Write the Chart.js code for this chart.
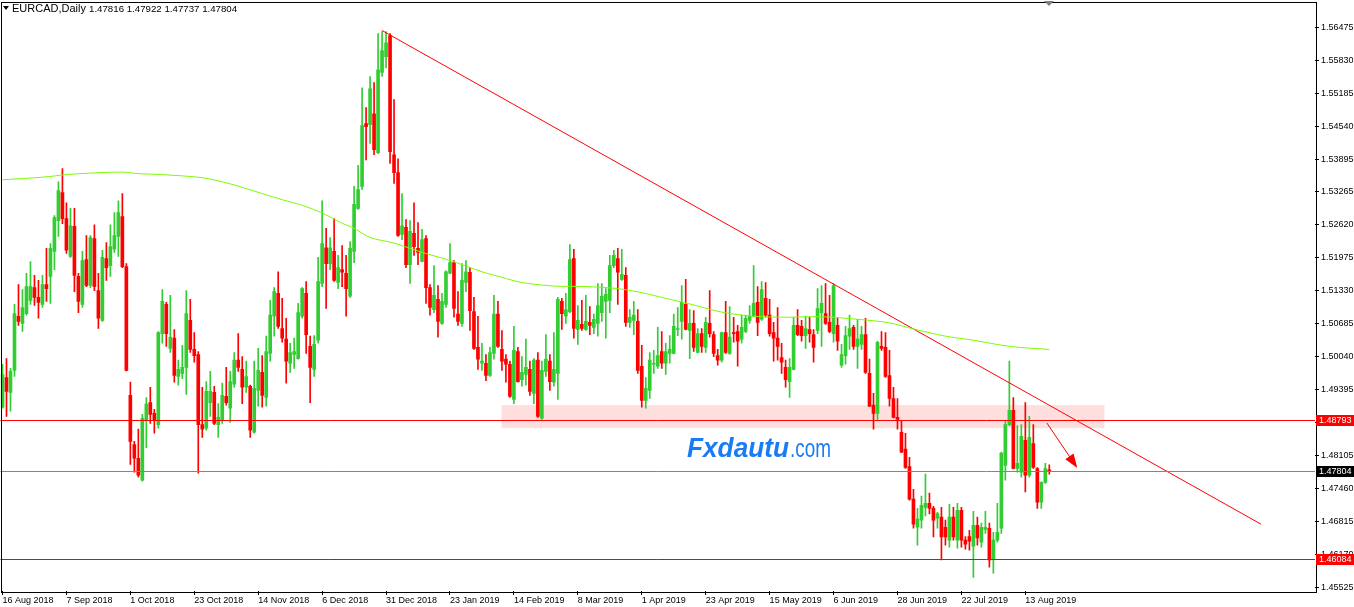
<!DOCTYPE html>
<html>
<head>
<meta charset="utf-8">
<title>EURCAD, Daily</title>
<script src="https://cdn.jsdelivr.net/npm/chart.js@4.4.1/dist/chart.umd.min.js"></script>
<style>
  html, body { margin: 0; padding: 0; background: #fff; }
  #wrap { width: 1354px; height: 607px; }
</style>
</head>
<body>
<div id="wrap"><canvas id="chart" width="1354" height="607"></canvas></div>
<script>
// daily candles, 16 Aug 2018 .. 21 Aug 2019
const opens = [
  1.4905,1.4963,1.4934,1.4977,1.5083,1.5069,1.5088,1.5114,1.5139,1.5120,
  1.5106,1.5145,1.5161,1.5210,1.5270,1.5325,1.5274,1.5200,1.5259,1.5161,
  1.5106,1.5194,1.5143,1.5235,1.5133,1.5075,1.5196,1.5182,1.5214,1.5239,
  1.5278,1.5180,1.4928,1.4832,1.4805,1.4762,1.4879,1.4914,1.4893,1.4871,
  1.5049,1.5106,1.5020,1.5040,1.4965,1.4971,1.4983,1.5075,1.5018,1.5008,
  1.4871,1.4864,1.4914,1.4934,1.4871,1.4879,1.4926,1.4903,1.4950,1.4997,
  1.4979,1.4944,1.4946,1.4856,1.4938,1.4973,1.4924,1.5010,1.5083,1.5128,
  1.5059,1.5038,1.4991,1.5008,1.5000,1.5083,1.5128,1.5024,1.4979,1.5036,
  1.5147,1.5217,1.5186,1.5210,1.5149,1.5174,1.5167,1.5122,1.5210,1.5294,
  1.5337,1.5460,1.5458,1.5479,1.5403,1.5560,1.5591,1.5632,1.5399,1.5364,
  1.5243,1.5257,1.5184,1.5245,1.5216,1.5190,1.5235,1.5139,1.5096,1.5116,
  1.5069,1.5106,1.5167,1.5188,1.5087,1.5069,1.5149,1.5169,1.5092,1.5022,
  1.4991,1.4991,1.4967,1.5010,1.5087,1.5018,1.4999,1.4989,1.4920,1.5014,
  1.4959,1.4969,1.4979,1.4932,1.4997,1.4883,1.4975,1.4995,1.4954,1.4971,
  1.5112,1.5083,1.5092,1.5196,1.5057,1.5067,1.5057,1.5071,1.5061,1.5069,
  1.5090,1.5112,1.5114,1.5182,1.5196,1.5155,1.5163,1.5071,1.5075,1.5073,
  1.4985,1.4918,1.4938,1.4989,1.4985,1.5014,1.4991,1.5010,1.5010,1.5057,
  1.5073,1.5106,1.5055,1.5069,1.5012,1.5049,1.5022,1.5069,1.5047,1.5006,
  1.4997,1.5051,1.5010,1.5051,1.5053,1.5038,1.5053,1.5075,1.5083,1.5110,
  1.5077,1.5118,1.5085,1.5051,1.5040,1.5002,1.4983,1.4955,1.4979,1.5065,
  1.5063,1.5045,1.5057,1.5047,1.5055,1.5090,1.5088,1.5071,1.5049,1.5065,
  1.4987,1.5006,1.5044,1.5061,1.5024,1.5028,1.5047,1.4971,1.4909,1.4893,
  1.5024,1.5022,1.4967,1.4922,1.4885,1.4856,1.4823,1.4789,1.4725,1.4670,
  1.4684,1.4709,1.4717,1.4707,1.4688,1.4690,1.4670,1.4645,1.4690,1.4645,
  1.4703,1.4645,1.4652,1.4633,1.4674,1.4641,1.4666,1.4668,1.4608,1.4645,
  1.4668,1.4791,1.4871,1.4899,1.4785,1.4778,1.4840,1.4772,1.4834,1.4785,
  1.4719,1.4758,1.47816
];
const highs = [
  1.4989,1.5000,1.4981,1.5106,1.5145,1.5135,1.5167,1.5190,1.5163,1.5153,
  1.5163,1.5216,1.5225,1.5280,1.5346,1.5372,1.5305,1.5294,1.5294,1.5167,
  1.5210,1.5241,1.5241,1.5262,1.5167,1.5212,1.5227,1.5262,1.5286,1.5309,
  1.5323,1.5186,1.4954,1.4838,1.4862,1.4891,1.4924,1.4944,1.4901,1.5053,
  1.5135,1.5110,1.5124,1.5057,1.4997,1.5026,1.5133,1.5116,1.5051,1.5014,
  1.4944,1.4955,1.4975,1.4946,1.4912,1.4952,1.4983,1.4975,1.5012,1.5049,
  1.5004,1.4995,1.4948,1.4995,1.5020,1.5006,1.5044,1.5114,1.5139,1.5170,
  1.5118,1.5079,1.5030,1.5040,1.5108,1.5139,1.5151,1.5044,1.5045,1.5198,
  1.5309,1.5255,1.5237,1.5274,1.5202,1.5221,1.5202,1.5229,1.5337,1.5378,
  1.5530,1.5491,1.5552,1.5540,1.5636,1.5640,1.5640,1.5636,1.5507,1.5391,
  1.5323,1.5272,1.5270,1.5305,1.5266,1.5253,1.5241,1.5145,1.5182,1.5143,
  1.5128,1.5172,1.5225,1.5192,1.5131,1.5186,1.5192,1.5178,1.5120,1.5083,
  1.5030,1.5008,1.5022,1.5124,1.5112,1.5055,1.5008,1.4995,1.5063,1.5022,
  1.5004,1.5038,1.4995,1.5000,1.5012,1.4995,1.5047,1.5008,1.5051,1.5120,
  1.5118,1.5128,1.5223,1.5214,1.5104,1.5114,1.5124,1.5102,1.5087,1.5147,
  1.5147,1.5137,1.5202,1.5212,1.5216,1.5214,1.5178,1.5096,1.5112,1.5096,
  1.5026,1.4963,1.5012,1.5016,1.5061,1.5053,1.5030,1.5045,1.5087,1.5100,
  1.5143,1.5155,1.5096,1.5094,1.5059,1.5059,1.5081,1.5133,1.5053,1.5018,
  1.5052,1.5112,1.5102,1.5081,1.5065,1.5085,1.5085,1.5104,1.5182,1.5141,
  1.5151,1.5149,1.5116,1.5071,1.5100,1.5030,1.4997,1.5000,1.5081,1.5096,
  1.5075,1.5083,1.5081,1.5057,1.5137,1.5143,1.5147,1.5124,1.5147,1.5081,
  1.5028,1.5063,1.5085,1.5065,1.5077,1.5063,1.5079,1.4999,1.4932,1.5034,
  1.5053,1.5051,1.5016,1.4944,1.4922,1.4879,1.4854,1.4807,1.4744,1.4707,
  1.4731,1.4774,1.4737,1.4711,1.4699,1.4709,1.4684,1.4715,1.4709,1.4717,
  1.4709,1.4652,1.4664,1.4701,1.4690,1.4678,1.4701,1.4678,1.4660,1.4717,
  1.4817,1.4879,1.4995,1.4924,1.4869,1.4871,1.4914,1.4887,1.4871,1.4787,
  1.4759,1.4795,1.47922
];
const lows = [
  1.4903,1.4887,1.4897,1.4965,1.5065,1.5053,1.5085,1.5106,1.5104,1.5079,
  1.5100,1.5112,1.5108,1.5174,1.5239,1.5264,1.5206,1.5198,1.5131,1.5090,
  1.5100,1.5141,1.5139,1.5133,1.5059,1.5073,1.5153,1.5161,1.5208,1.5200,
  1.5178,1.4976,1.4793,1.4778,1.4768,1.4760,1.4826,1.4873,1.4854,1.4864,
  1.5030,1.5024,1.5012,1.4954,1.4948,1.4961,1.4930,1.5012,1.4993,1.4776,
  1.4846,1.4860,1.4887,1.4871,1.4846,1.4873,1.4909,1.4875,1.4944,1.4975,
  1.4912,1.4934,1.4846,1.4854,1.4907,1.4905,1.4907,1.4995,1.5044,1.5059,
  1.5032,1.4952,1.4973,1.4981,1.4999,1.5079,1.5010,1.4914,1.4965,1.5030,
  1.5141,1.5098,1.5174,1.5151,1.5137,1.5141,1.5083,1.5120,1.5188,1.5292,
  1.5331,1.5389,1.5421,1.5399,1.5401,1.5552,1.5569,1.5382,1.5343,1.5239,
  1.5233,1.5178,1.5147,1.5202,1.5184,1.5189,1.5108,1.5085,1.5090,1.5042,
  1.5067,1.5100,1.5166,1.5081,1.5065,1.5063,1.5131,1.5055,1.5018,1.4979,
  1.4977,1.4957,1.4965,1.4999,1.5022,1.4977,1.4954,1.4924,1.4912,1.4954,
  1.4946,1.4948,1.4928,1.4912,1.4885,1.4881,1.4965,1.4938,1.4946,1.4920,
  1.5057,1.5069,1.5090,1.5040,1.5028,1.5055,1.5055,1.5047,1.5049,1.5044,
  1.5073,1.5040,1.5090,1.5178,1.5106,1.5153,1.5063,1.5061,1.5047,1.4971,
  1.4905,1.4903,1.4922,1.4971,1.4981,1.4981,1.4969,1.4991,1.5009,1.5045,
  1.5038,1.5056,1.5000,1.5014,1.5011,1.5012,1.5012,1.5042,1.5004,1.4987,
  1.4993,1.5010,1.5008,1.5032,1.4985,1.5030,1.5051,1.5069,1.5082,1.5045,
  1.5075,1.5081,1.5044,1.4995,1.4997,1.4971,1.4944,1.4924,1.4978,1.5045,
  1.5034,1.5020,1.5032,1.4993,1.5049,1.5024,1.5067,1.5051,1.5032,1.5016,
  1.4983,1.4989,1.5018,1.5018,1.4981,1.5018,1.4971,1.4906,1.4862,1.4879,
  1.5016,1.4963,1.4907,1.4884,1.4862,1.4816,1.4785,1.4723,1.4668,1.4635,
  1.4668,1.4692,1.4696,1.4651,1.4668,1.4606,1.4635,1.4631,1.4645,1.4629,
  1.4631,1.4627,1.4625,1.4572,1.4635,1.4631,1.4658,1.4592,1.4580,1.4641,
  1.4658,1.4762,1.4869,1.4784,1.4778,1.4768,1.4739,1.4768,1.4785,1.4707,
  1.4707,1.4756,1.47737
];
const closes = [
  1.4969,1.4936,1.4975,1.5088,1.5073,1.5100,1.5141,1.5141,1.5120,1.5110,
  1.5145,1.5137,1.5216,1.5276,1.5329,1.5274,1.5212,1.5260,1.5163,1.5112,
  1.5192,1.5143,1.5237,1.5141,1.5079,1.5198,1.5178,1.5219,1.5241,1.5286,
  1.5180,1.4977,1.4838,1.4805,1.4772,1.4883,1.4911,1.4891,1.4879,1.5051,
  1.5112,1.5049,1.5042,1.4967,1.4979,1.4983,1.5088,1.5018,1.5006,1.4871,
  1.4862,1.4936,1.4936,1.4873,1.4885,1.4928,1.4914,1.4955,1.4997,1.4983,
  1.4944,1.4965,1.4860,1.4942,1.4977,1.4928,1.5014,1.5085,1.5131,1.5063,
  1.5040,1.4995,1.5012,1.5014,1.5090,1.5137,1.5047,1.4983,1.5028,1.5151,
  1.5225,1.5186,1.5217,1.5153,1.5178,1.5169,1.5137,1.5216,1.5302,1.5331,
  1.5456,1.5454,1.5528,1.5409,1.5565,1.5603,1.5618,1.5405,1.5364,1.5241,
  1.5260,1.5184,1.5249,1.5219,1.5208,1.5233,1.5139,1.5100,1.5124,1.5073,
  1.5112,1.5170,1.5188,1.5098,1.5073,1.5153,1.5170,1.5094,1.5020,1.4999,
  1.4995,1.4967,1.5012,1.5087,1.5024,1.4995,1.4989,1.4926,1.5016,1.4955,
  1.4973,1.4983,1.4936,1.4997,1.4887,1.4977,1.4999,1.4955,1.4979,1.5116,
  1.5088,1.5096,1.5194,1.5059,1.5075,1.5059,1.5073,1.5065,1.5077,1.5104,
  1.5122,1.5126,1.5182,1.5202,1.5169,1.5165,1.5071,1.5081,1.5085,1.4977,
  1.4918,1.4942,1.4997,1.4991,1.5006,1.4991,1.5014,1.5018,1.5063,1.5059,
  1.5110,1.5057,1.5069,1.5022,1.5049,1.5024,1.5071,1.5049,1.5010,1.4997,
  1.5051,1.5012,1.5042,1.5049,1.5034,1.5061,1.5079,1.5083,1.5108,1.5071,
  1.5135,1.5085,1.5049,1.5040,1.5024,1.4993,1.4959,1.4983,1.5065,1.5047,
  1.5045,1.5059,1.5049,1.5022,1.5098,1.5108,1.5069,1.5053,1.5143,1.5034,
  1.5008,1.5045,1.5059,1.5024,1.5038,1.5047,1.4973,1.4907,1.4893,1.5032,
  1.5020,1.4965,1.4922,1.4885,1.4881,1.4817,1.4787,1.4725,1.4676,1.4686,
  1.4713,1.4717,1.4707,1.4684,1.4697,1.4651,1.4651,1.4690,1.4651,1.4703,
  1.4645,1.4637,1.4643,1.4674,1.4649,1.4670,1.4670,1.4606,1.4645,1.4660,
  1.4815,1.4871,1.4899,1.4785,1.4795,1.4848,1.4772,1.4846,1.4787,1.4719,
  1.4758,1.4785,1.47804
];

// 200-day moving average, read at a few bars (bar index -> value)
const maIdx = [0,10,16,22,30,34,40,50,57,65,70,75,80,85,88,92,98,105,112,120,125,130,138,146,154,160,166,172,180,188,196,205,214,222,228,236,243,252,262];
const maVal = [1.5350,1.5355,1.5360,1.5363,1.5365,1.5362,1.5360,1.5354,1.5342,1.5323,1.5311,1.5300,1.5285,1.5265,1.5255,1.5237,1.5226,1.5208,1.5192,1.5170,1.5159,1.5149,1.5142,1.5141,1.5137,1.5129,1.5118,1.5107,1.5091,1.5083,1.5081,1.5082,1.5077,1.5070,1.5058,1.5044,1.5036,1.5024,1.5018];

// bottom date labels, one every 16 bars
const dateTicks = ['16 Aug 2018','7 Sep 2018','1 Oct 2018','23 Oct 2018','14 Nov 2018','6 Dec 2018',
  '31 Dec 2018','23 Jan 2019','14 Feb 2019','8 Mar 2019','1 Apr 2019','23 Apr 2019',
  '15 May 2019','6 Jun 2019','28 Jun 2019','22 Jul 2019','13 Aug 2019'];
const priceTicks = [1.56475,1.55830,1.55185,1.54540,1.53895,1.53265,1.52620,1.51975,1.51330,
  1.50685,1.50040,1.49395,1.48750,1.48105,1.47460,1.46815,1.46170,1.45525];

// drawn objects
const trendFrom = [95, 1.5642];
const trendTo = [315, 1.4676];
const zone = { from: 124.9, to: 275.8, top: 1.4909, bottom: 1.4864 };
const levels = [
  { price: 1.48793, color: '#ff0000' },
  { price: 1.47804, color: '#778899', box: '#000000' },
  { price: 1.46084, color: '#ff0000' }
];
const arrow = { from: [261.4, 1.4874], to: [269.0, 1.4786] };
const quote = { symbol: 'EURCAD,Daily', o: 1.47816, h: 1.47922, l: 1.47737, c: 1.47804 };

const SLOTS = 329;
const slotLabels = Array.from({ length: SLOTS }, (_, i) =>
  (i % 16 === 0 && i / 16 < dateTicks.length) ? dateTicks[i / 16] : '');

const UP = '#32cd32', DOWN = '#ff0000';
const candleColors = opens.map((o, i) => closes[i] >= o ? UP : DOWN);

const maData = new Array(opens.length).fill(null);
maIdx.forEach((k, j) => { maData[k] = maVal[j]; });
const trendData = new Array(trendTo[0] + 1).fill(null);
trendData[trendFrom[0]] = trendFrom[1];
trendData[trendTo[0]] = trendTo[1];

const FONT = 'Liberation Sans, Arial, sans-serif';

const overlay = {
  id: 'overlay',
  beforeDatasetsDraw(chart) {
    const { ctx, scales: { x, y } } = chart;
    ctx.save();
    // support zone
    const x0 = x.getPixelForValue(zone.from), x1 = x.getPixelForValue(zone.to);
    const y0 = y.getPixelForValue(zone.top), y1 = y.getPixelForValue(zone.bottom);
    ctx.fillStyle = '#ffdede';
    ctx.fillRect(x0, y0, x1 - x0, y1 - y0);

    // watermark
    ctx.fillStyle = '#1a7cf5';
    ctx.textBaseline = 'alphabetic';
    ctx.font = 'italic bold 28px ' + FONT;
    let w = ctx.measureText('Fxdautu').width;
    ctx.save();
    ctx.translate(687, 457);
    ctx.scale(102 / w, 1);
    ctx.fillText('Fxdautu', 0, 0);
    ctx.restore();
    ctx.font = '26px ' + FONT;
    w = ctx.measureText('.com').width;
    ctx.save();
    ctx.translate(790, 457);
    ctx.scale(41 / w, 1);
    ctx.fillText('.com', 0, 0);
    ctx.restore();
    ctx.restore();
  },
  afterDatasetsDraw(chart) {
    const { ctx, chartArea: a, scales: { x, y } } = chart;
    ctx.save();
    ctx.lineWidth = 1;
    levels.forEach(l => {
      const py = Math.round(y.getPixelForValue(l.price)) + 0.5;
      ctx.strokeStyle = l.color;
      ctx.beginPath();
      ctx.moveTo(a.left, py);
      ctx.lineTo(a.right, py);
      ctx.stroke();
    });
    // arrow
    const ax0 = x.getPixelForValue(arrow.from[0]), ay0 = y.getPixelForValue(arrow.from[1]);
    const ax1 = x.getPixelForValue(arrow.to[0]), ay1 = y.getPixelForValue(arrow.to[1]);
    const ang = Math.atan2(ay1 - ay0, ax1 - ax0);
    ctx.strokeStyle = '#ff0000';
    ctx.fillStyle = '#ff0000';
    ctx.beginPath();
    ctx.moveTo(ax0, ay0);
    ctx.lineTo(ax1 - 8 * Math.cos(ang), ay1 - 8 * Math.sin(ang));
    ctx.stroke();
    ctx.beginPath();
    ctx.moveTo(ax1, ay1);
    ctx.lineTo(ax1 - 14 * Math.cos(ang) + 5 * Math.sin(ang), ay1 - 14 * Math.sin(ang) - 5 * Math.cos(ang));
    ctx.lineTo(ax1 - 14 * Math.cos(ang) - 5 * Math.sin(ang), ay1 - 14 * Math.sin(ang) + 5 * Math.cos(ang));
    ctx.closePath();
    ctx.fill();
    ctx.restore();
  },
  afterDraw(chart) {
    const { ctx, chartArea: a, scales: { y } } = chart;
    ctx.save();
    // frame
    ctx.strokeStyle = '#000';
    ctx.lineWidth = 1;
    ctx.strokeRect(Math.round(a.left) + 0.5, Math.round(a.top) + 0.5,
      Math.round(a.right - a.left), Math.round(a.bottom - a.top));

    // price boxes on the axis
    ctx.font = '9px ' + FONT;
    ctx.textBaseline = 'middle';
    levels.forEach(l => {
      const py = Math.round(y.getPixelForValue(l.price));
      ctx.fillStyle = l.box || l.color;
      ctx.fillRect(a.right + 1, py - 5, chart.width - a.right - 1, 11);
      ctx.fillStyle = '#fff';
      ctx.fillText(l.price.toFixed(5), a.right + 4, py + 0.5);
    });

    // chart-shift marker
    ctx.fillStyle = '#808080';
    ctx.beginPath();
    ctx.moveTo(1044, 1);
    ctx.lineTo(1054, 1);
    ctx.lineTo(1049, 6);
    ctx.closePath();
    ctx.fill();

    // title
    ctx.fillStyle = '#000';
    ctx.beginPath();
    ctx.moveTo(3, 6);
    ctx.lineTo(9, 6);
    ctx.lineTo(6, 10);
    ctx.closePath();
    ctx.fill();
    ctx.textBaseline = 'alphabetic';
    ctx.font = '11px ' + FONT;
    ctx.fillText(quote.symbol, 12, 12);
    ctx.font = '9.7px ' + FONT;
    ctx.fillText([quote.o, quote.h, quote.l, quote.c].map(v => v.toFixed(5)).join(' '), 89, 12);
    ctx.restore();
  }
};

new Chart(document.getElementById('chart'), {
  type: 'bar',
  data: {
    labels: slotLabels,
    datasets: [
      {
        type: 'line', data: maData, spanGaps: true, borderColor: '#7cfc00',
        borderWidth: 1, pointRadius: 0, tension: 0.3
      },
      {
        type: 'line', data: trendData, spanGaps: true, borderColor: '#ff0000',
        borderWidth: 1, pointRadius: 0
      },
      {
        data: opens.map((o, i) => [o, closes[i]]), backgroundColor: candleColors,
        barThickness: 3, grouped: false, borderWidth: 0, minBarLength: 1
      },
      {
        data: lows.map((l, i) => [l, highs[i]]), backgroundColor: candleColors,
        barThickness: 1, grouped: false, borderWidth: 0
      }
    ]
  },
  options: {
    responsive: false,
    animation: false,
    devicePixelRatio: 1,
    layout: { padding: { top: 1.5, left: 0.5, right: 0, bottom: 0 } },
    plugins: { legend: { display: false }, tooltip: { enabled: false } },
    scales: {
      x: {
        type: 'category',
        offset: true,
        border: { display: false },
        grid: { drawOnChartArea: false, drawTicks: true, tickLength: 4, color: '#000', offset: false },
        ticks: {
          autoSkip: false, maxRotation: 0, minRotation: 0, align: 'start', padding: 0,
          color: '#000', font: { family: FONT, size: 9 },
          callback: v => slotLabels[v]
        },
        afterBuildTicks: s => { s.ticks = s.ticks.filter(t => slotLabels[t.value] !== ''); },
        afterFit: s => { s.height = 16; s.paddingLeft = 0; s.paddingRight = 0; }
      },
      y: {
        position: 'right',
        min: 1.45453,
        max: 1.56988,
        border: { display: false },
        grid: { drawOnChartArea: false, drawTicks: true, tickLength: 4, color: '#000' },
        ticks: {
          autoSkip: false, padding: 2, color: '#000', font: { family: FONT, size: 9 },
          callback: v => Number(v).toFixed(5)
        },
        afterBuildTicks: s => { s.ticks = priceTicks.map(v => ({ value: v })); },
        afterFit: s => { s.width = 39; s.paddingTop = 0; s.paddingBottom = 0; }
      }
    }
  },
  plugins: [overlay]
});
</script>
</body>
</html>
